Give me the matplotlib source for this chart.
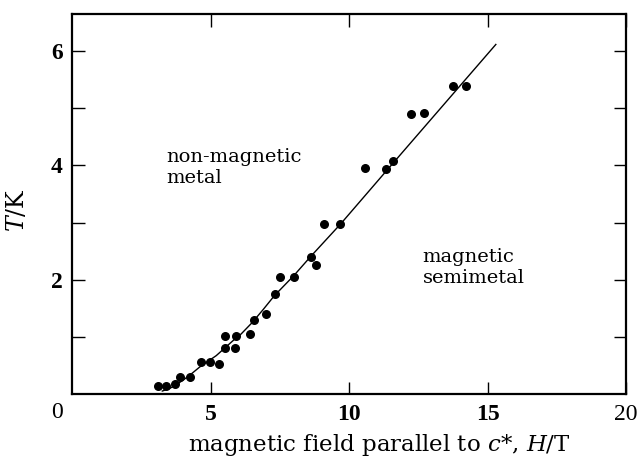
import numpy as np
import matplotlib.pyplot as plt
from matplotlib import transforms

plt.rcParams['font.family'] = 'DejaVu Serif'
plt.rcParams['mathtext.fontset'] = 'dejavuserif'

# measured points, H in tesla, T in kelvin
H = [3.10, 3.40, 3.70, 3.88, 4.24, 4.66, 4.96, 5.29, 5.51, 5.51, 5.89, 5.93,
     6.41, 6.56, 7.01, 7.31, 7.49, 8.00, 8.61, 8.82, 9.09, 9.68, 10.58, 11.34,
     11.58, 12.24, 12.69, 13.77, 14.21]
T = [0.14, 0.14, 0.17, 0.30, 0.30, 0.55, 0.56, 0.53, 0.80, 1.02, 0.80, 1.02,
     1.05, 1.30, 1.40, 1.75, 2.04, 2.04, 2.39, 2.26, 2.98, 2.97, 3.96, 3.94,
     4.08, 4.90, 4.92, 5.40, 5.40]

# phase boundary drawn through the data
H_line = [3.25, 3.5, 3.75, 4.0, 4.3, 4.6, 4.9, 5.2, 5.5, 5.8, 6.1, 6.5,
          6.9, 7.3, 8.0, 8.6, 9.7, 11.3, 15.3]
T_line = [0.05, 0.09, 0.16, 0.24, 0.35, 0.47, 0.57, 0.67, 0.80, 0.93, 1.05, 1.25,
          1.48, 1.72, 2.07, 2.40, 2.98, 3.88, 6.12]

fig = plt.figure(figsize=(6.4, 4.58), dpi=100)
ax = fig.add_axes([0.113, 0.140, 0.865, 0.829])

ax.plot(H_line, T_line, color='black', lw=1.0)
ax.scatter(H, T, s=30, color='black', zorder=3)

ax.set_xlim(0, 20)
ax.set_ylim(0, 6.65)
ax.set_xticks([5, 10, 15, 20])
ax.set_xticklabels(['5', '10', '15', '20'])
ax.set_yticks([1, 2, 3, 4, 5, 6])
ax.set_yticklabels(['', '2', '', '4', '', '6'])
ax.tick_params(direction='in', top=True, right=True, length=9, width=1.0,
               labelsize=17, pad=7)
for lab in ax.get_xticklabels() + ax.get_yticklabels():
    lab.set_family('Liberation Serif')
for lab in ax.get_xticklabels()[:3] + ax.get_yticklabels():
    lab.set_fontweight('bold')
for s in ax.spines.values():
    s.set_linewidth(1.6)

trans = transforms.blended_transform_factory(ax.transData, ax.transAxes)
ax.text(-0.56, -0.05, '0', transform=trans, ha='center', va='center',
        fontsize=17, family='Liberation Serif')

ax.set_xlabel('magnetic field parallel to $c$*, $H$/T', fontsize=16.5)
ax.xaxis.set_label_coords(0.554, -0.1)
ax.set_ylabel('$T$/K', fontsize=17)
ax.yaxis.set_label_coords(-0.078, 0.484)

ax.text(3.38, 4.30, 'non-magnetic\nmetal', fontsize=14, va='top', ha='left',
        linespacing=1.2)
ax.text(12.65, 2.55, 'magnetic\nsemimetal', fontsize=14, va='top', ha='left',
        linespacing=1.2)

fig.savefig('out.png', dpi=100)
